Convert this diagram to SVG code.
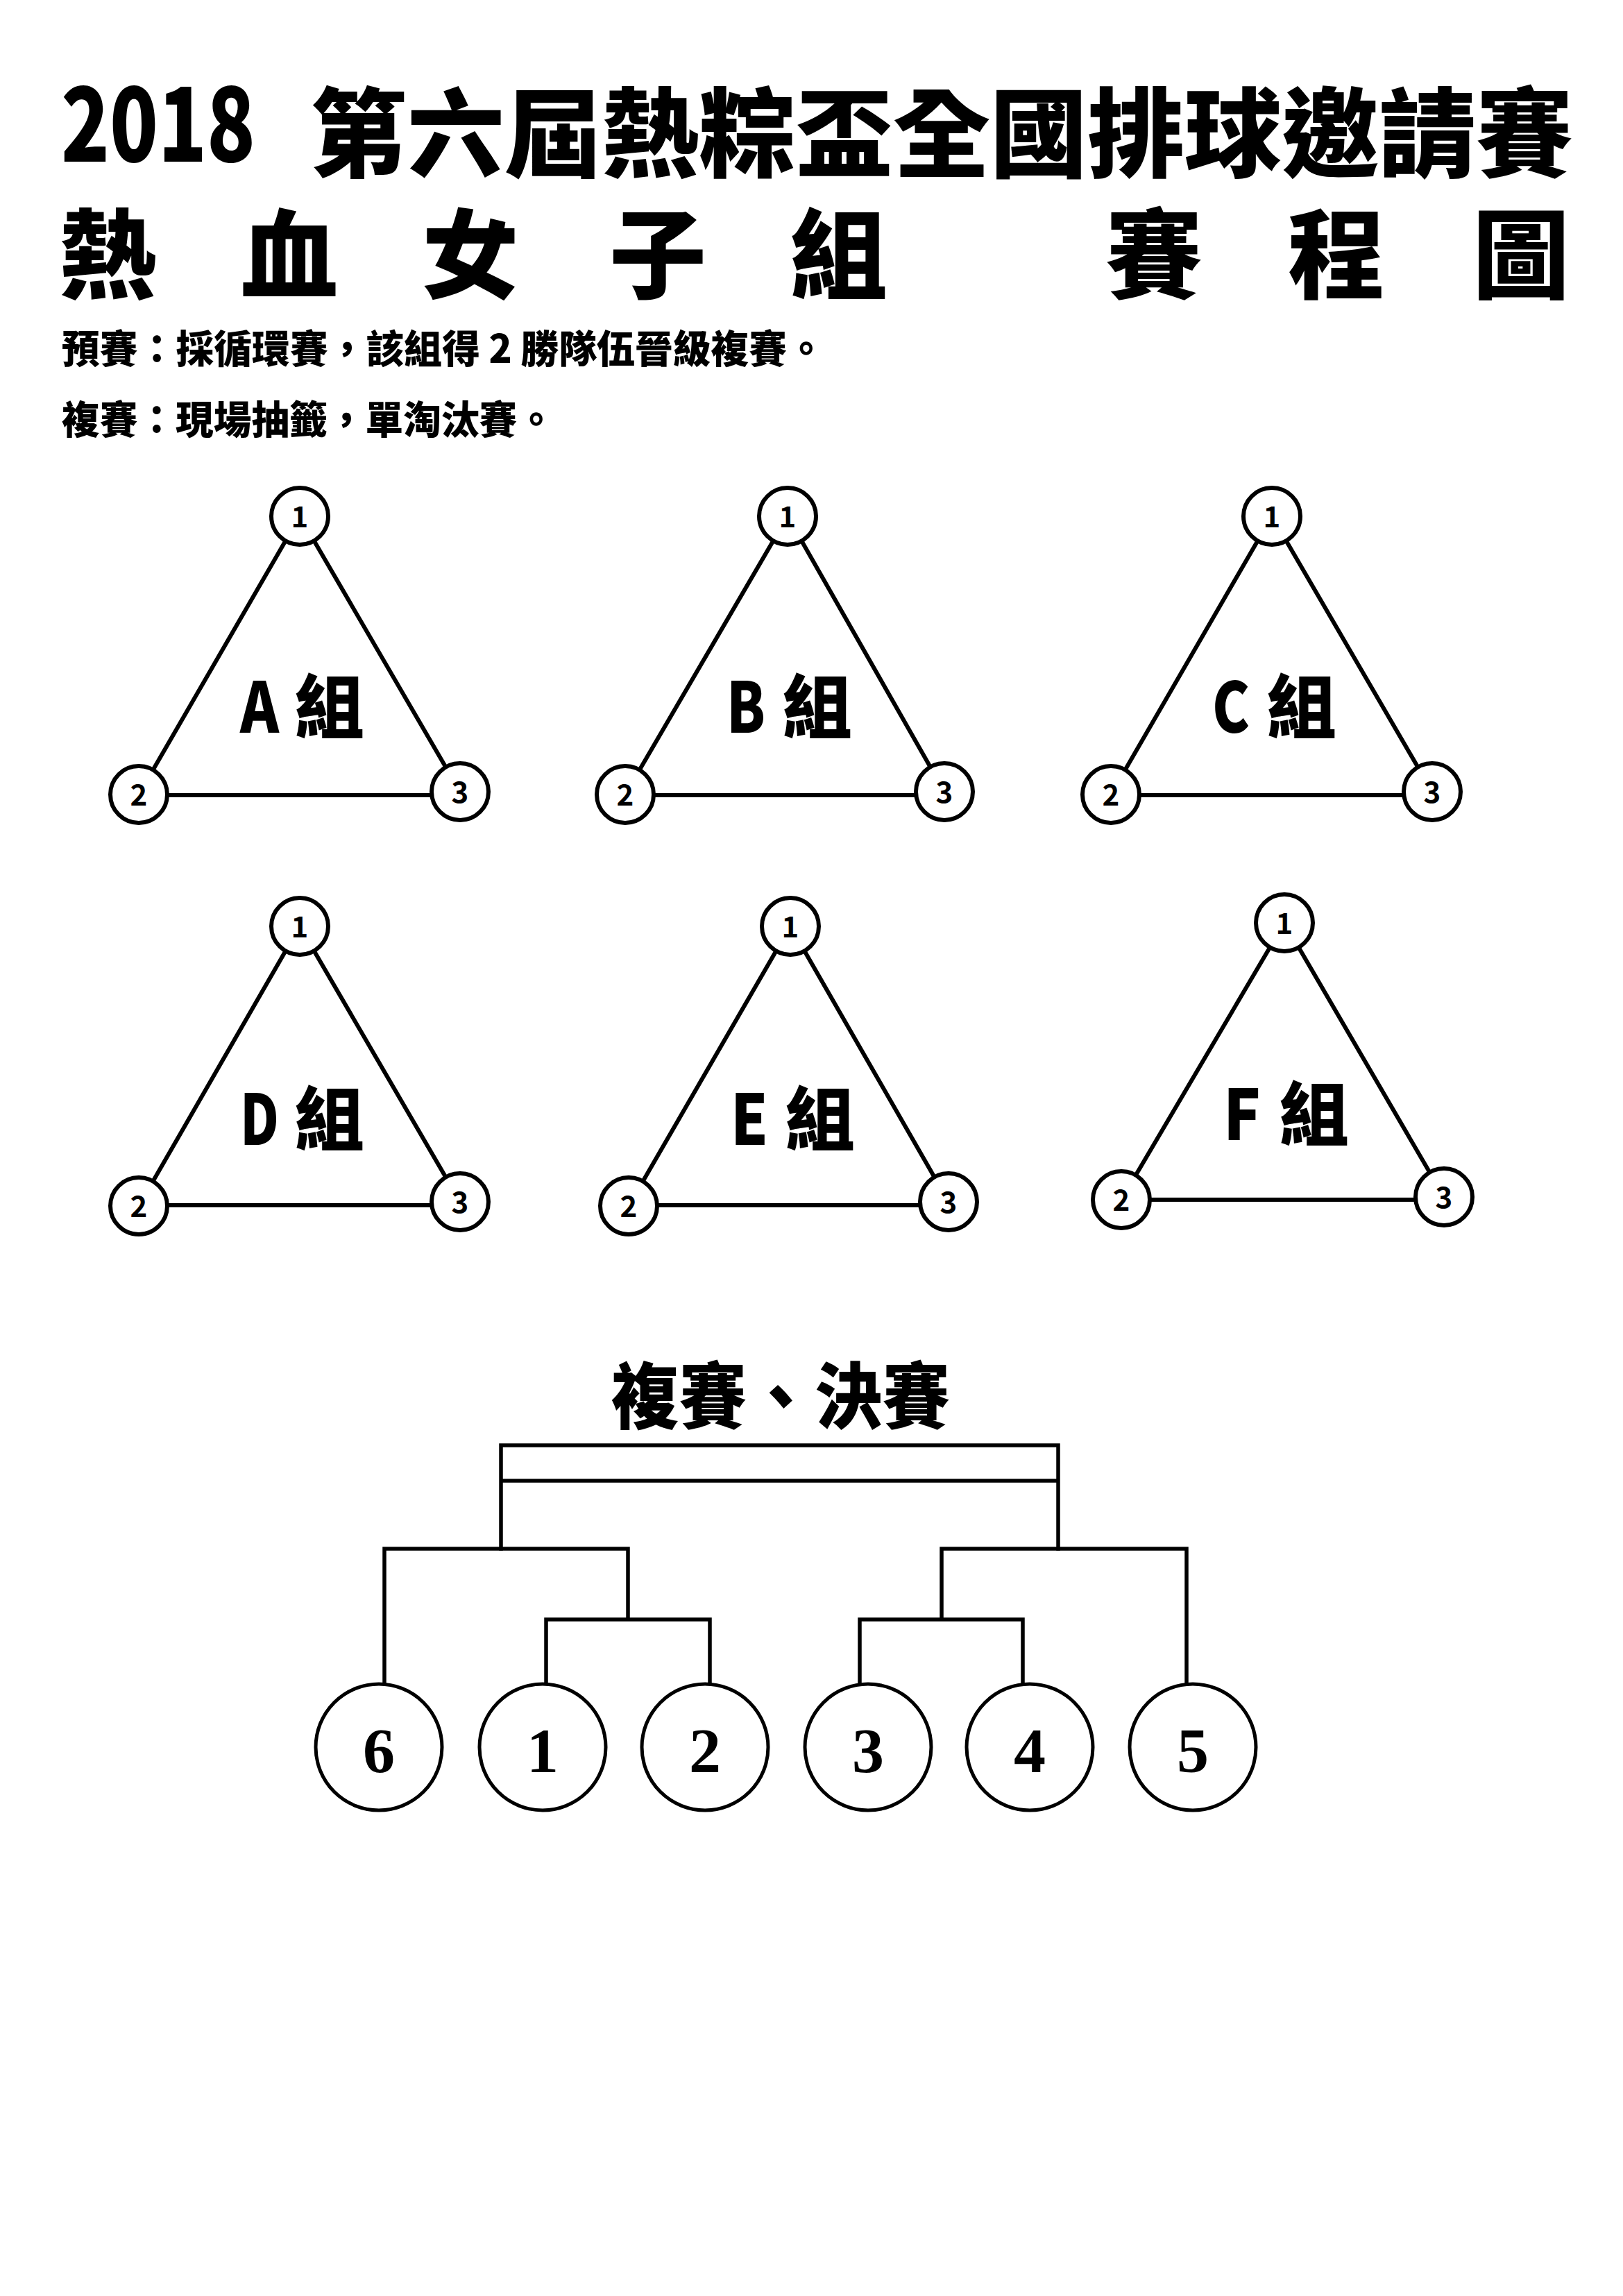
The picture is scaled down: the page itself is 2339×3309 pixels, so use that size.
<svg xmlns="http://www.w3.org/2000/svg" width="2339" height="3309" viewBox="0 0 2339 3309">
<style>
.cjk{font-family:"Noto Sans CJK TC","Noto Sans CJK SC",sans-serif;font-weight:900;fill:#000}
.edge{stroke:#000;stroke-width:6;fill:none}
.br{stroke:#000;stroke-width:5.5;fill:none;stroke-linecap:square}
.sc{fill:#fff;stroke:#000;stroke-width:6}
.bc{fill:#fff;stroke:#000;stroke-width:5}
.sn{font-family:"Noto Sans CJK TC",sans-serif;font-weight:700;font-size:42px;text-anchor:middle;fill:#000}
.lab{font-family:"Noto Sans CJK TC","Noto Sans CJK SC",sans-serif;font-weight:900;font-size:100px;fill:#000}
.bn{font-family:"Liberation Serif",serif;font-weight:700;font-size:92px;text-anchor:middle;fill:#000}
</style>
<rect width="2339" height="3309" fill="#fff"/>
<g id="title">
<text class="cjk"><tspan x="88" y="233" font-size="145" textLength="280" lengthAdjust="spacingAndGlyphs">2018</tspan><tspan x="447" y="244" font-size="140">第六屆熱粽盃全國排球邀請賽</tspan><tspan x="85 347 608 878 1139 1593 1856 2122" y="419" font-size="140">熱血女子組賽程圖</tspan></text>
<text class="cjk" x="89" y="523" font-size="56" textLength="1100" lengthAdjust="spacingAndGlyphs">預賽：採循環賽，該組得 2 勝隊伍晉級複賽。</text>
<text class="cjk" x="89" y="625" font-size="56" textLength="711" lengthAdjust="spacingAndGlyphs">複賽：現場抽籤，單淘汰賽。</text>
</g>
<g id="connectors">
<path class="edge" d="M432,744 L200,1145 M432,744 L663,1141 M200,1146 H663"/>
<path class="edge" d="M1135,744 L901,1145 M1135,744 L1361,1141 M901,1146 H1361"/>
<path class="edge" d="M1833,744 L1601,1145 M1833,744 L2064,1141 M1601,1146 H2064"/>
<path class="edge" d="M432,1335 L200,1738 M432,1335 L663,1732 M200,1737 H663"/>
<path class="edge" d="M1139,1335 L906,1738 M1139,1335 L1367,1732 M906,1737 H1367"/>
<path class="edge" d="M1851,1330 L1616,1729 M1851,1330 L2081,1725 M1616,1729 H2081"/>
<path class="br" d="M722,2232 V2083 H1525 V2232 M722,2134 H1525"/>
<path class="br" d="M554,2424 V2232 H905 V2334 M787,2424 V2334 H1023 V2424"/>
<path class="br" d="M1710,2424 V2232 H1357 V2334 M1239,2424 V2334 H1474 V2424"/>
</g>
<g id="group-A">
<circle class="sc" cx="432" cy="744" r="41"/><text class="sn" x="432" y="760">1</text>
<circle class="sc" cx="200" cy="1145" r="41"/><text class="sn" x="200" y="1161">2</text>
<circle class="sc" cx="663" cy="1141" r="41"/><text class="sn" x="663" y="1157">3</text>
<text class="lab" y="1056"><tspan x="346" textLength="56" lengthAdjust="spacingAndGlyphs">A</tspan><tspan x="425">組</tspan></text>
</g>
<g id="group-B">
<circle class="sc" cx="1135" cy="744" r="41"/><text class="sn" x="1135" y="760">1</text>
<circle class="sc" cx="901" cy="1145" r="41"/><text class="sn" x="901" y="1161">2</text>
<circle class="sc" cx="1361" cy="1141" r="41"/><text class="sn" x="1361" y="1157">3</text>
<text class="lab" y="1056"><tspan x="1047" textLength="56" lengthAdjust="spacingAndGlyphs">B</tspan><tspan x="1128">組</tspan></text>
</g>
<g id="group-C">
<circle class="sc" cx="1833" cy="744" r="41"/><text class="sn" x="1833" y="760">1</text>
<circle class="sc" cx="1601" cy="1145" r="41"/><text class="sn" x="1601" y="1161">2</text>
<circle class="sc" cx="2064" cy="1141" r="41"/><text class="sn" x="2064" y="1157">3</text>
<text class="lab" y="1056"><tspan x="1747" textLength="54" lengthAdjust="spacingAndGlyphs">C</tspan><tspan x="1826">組</tspan></text>
</g>
<g id="group-D">
<circle class="sc" cx="432" cy="1335" r="41"/><text class="sn" x="432" y="1351">1</text>
<circle class="sc" cx="200" cy="1738" r="41"/><text class="sn" x="200" y="1754">2</text>
<circle class="sc" cx="663" cy="1732" r="41"/><text class="sn" x="663" y="1748">3</text>
<text class="lab" y="1650"><tspan x="346" textLength="56" lengthAdjust="spacingAndGlyphs">D</tspan><tspan x="425">組</tspan></text>
</g>
<g id="group-E">
<circle class="sc" cx="1139" cy="1335" r="41"/><text class="sn" x="1139" y="1351">1</text>
<circle class="sc" cx="906" cy="1738" r="41"/><text class="sn" x="906" y="1754">2</text>
<circle class="sc" cx="1367" cy="1732" r="41"/><text class="sn" x="1367" y="1748">3</text>
<text class="lab" y="1650"><tspan x="1053" textLength="54" lengthAdjust="spacingAndGlyphs">E</tspan><tspan x="1132">組</tspan></text>
</g>
<g id="group-F">
<circle class="sc" cx="1851" cy="1330" r="41"/><text class="sn" x="1851" y="1346">1</text>
<circle class="sc" cx="1616" cy="1729" r="41"/><text class="sn" x="1616" y="1745">2</text>
<circle class="sc" cx="2081" cy="1725" r="41"/><text class="sn" x="2081" y="1741">3</text>
<text class="lab" y="1643"><tspan x="1763" textLength="54" lengthAdjust="spacingAndGlyphs">F</tspan><tspan x="1844">組</tspan></text>
</g>
<g id="bracket-title">
<text class="cjk" x="881" y="2051" font-size="104" font-weight="700" textLength="488" lengthAdjust="spacingAndGlyphs">複賽、決賽</text>
</g>
<g id="seed-6"><circle class="bc" cx="546" cy="2518" r="91"/><text class="bn" x="546" y="2554">6</text></g>
<g id="seed-1"><circle class="bc" cx="782" cy="2518" r="91"/><text class="bn" x="782" y="2554">1</text></g>
<g id="seed-2"><circle class="bc" cx="1016" cy="2518" r="91"/><text class="bn" x="1016" y="2554">2</text></g>
<g id="seed-3"><circle class="bc" cx="1251" cy="2518" r="91"/><text class="bn" x="1251" y="2554">3</text></g>
<g id="seed-4"><circle class="bc" cx="1484" cy="2518" r="91"/><text class="bn" x="1484" y="2554">4</text></g>
<g id="seed-5"><circle class="bc" cx="1719" cy="2518" r="91"/><text class="bn" x="1719" y="2554">5</text></g>
</svg>
